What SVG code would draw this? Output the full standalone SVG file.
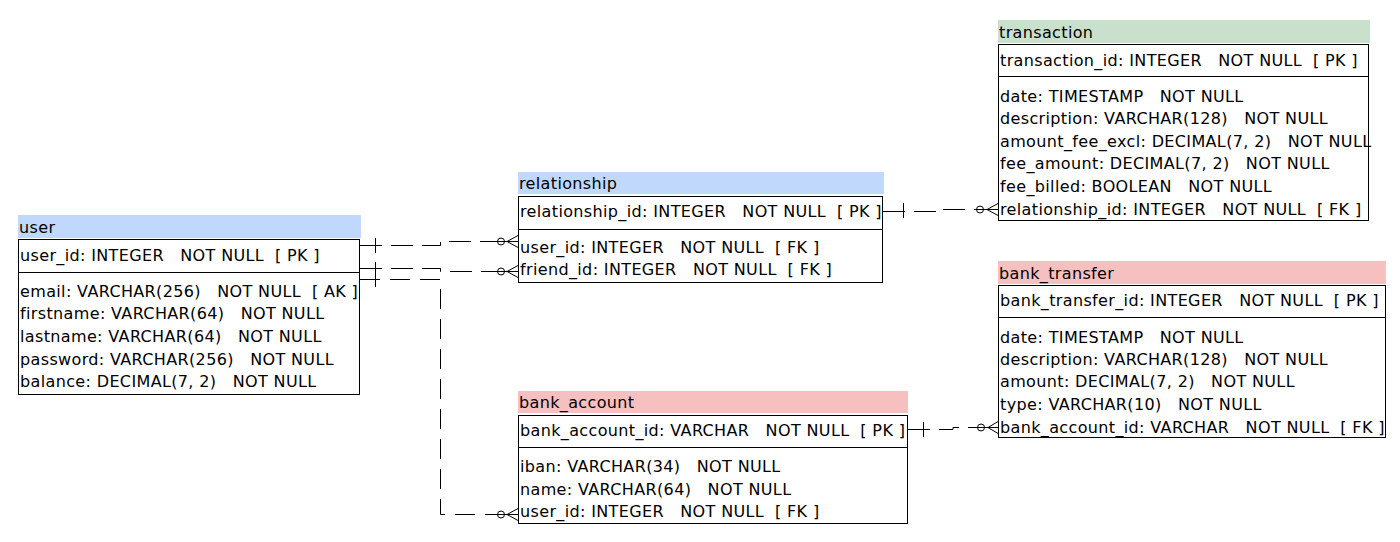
<svg xmlns="http://www.w3.org/2000/svg" width="1400" height="542" viewBox="0 0 1400 542">
<style>
text{font-family:"DejaVu Sans",Tahoma,Verdana,sans-serif;font-size:16px;letter-spacing:0.36px;fill:#000;white-space:pre}
.box{fill:#fff;stroke:#000;stroke-width:1}
.sep{stroke:#000;stroke-width:1}
.hb{fill:#c0d8fc}
.hg{fill:#c8e0cc}
.hr{fill:#f6c0c0}
.c{fill:none;stroke:#000;stroke-width:1}
.d{stroke-dasharray:22 9}
</style>
<rect width="1400" height="542" fill="#fff"/>
<g id="user">
<rect class="hb" x="18" y="215" width="343" height="23"/>
<text x="19" y="233">user</text>
<rect class="box" x="18.5" y="239.5" width="341" height="155"/>
<line class="sep" x1="18" y1="272.5" x2="360" y2="272.5"/>
<text x="20" y="261">user_id: INTEGER   NOT NULL  [ PK ]</text>
<text x="20" y="297">email: VARCHAR(256)   NOT NULL  [ AK ]</text>
<text x="20" y="319">firstname: VARCHAR(64)   NOT NULL</text>
<text x="20" y="342">lastname: VARCHAR(64)   NOT NULL</text>
<text x="20" y="365">password: VARCHAR(256)   NOT NULL</text>
<text x="20" y="387">balance: DECIMAL(7, 2)   NOT NULL</text>
</g>
<g id="relationship">
<rect class="hb" x="518" y="172" width="366" height="22"/>
<text x="519" y="189">relationship</text>
<rect class="box" x="518.5" y="196.5" width="364" height="86"/>
<line class="sep" x1="518" y1="229.5" x2="883" y2="229.5"/>
<text x="520" y="217">relationship_id: INTEGER   NOT NULL  [ PK ]</text>
<text x="520" y="253">user_id: INTEGER   NOT NULL  [ FK ]</text>
<text x="520" y="275">friend_id: INTEGER   NOT NULL  [ FK ]</text>
</g>
<g id="transaction">
<rect class="hg" x="998" y="20" width="372" height="23"/>
<text x="999" y="38">transaction</text>
<rect class="box" x="998.5" y="44.5" width="370" height="176"/>
<line class="sep" x1="998" y1="76.5" x2="1369" y2="76.5"/>
<text x="1000" y="66">transaction_id: INTEGER   NOT NULL  [ PK ]</text>
<text x="1000" y="102">date: TIMESTAMP   NOT NULL</text>
<text x="1000" y="124">description: VARCHAR(128)   NOT NULL</text>
<text x="1000" y="147">amount_fee_excl: DECIMAL(7, 2)   NOT NULL</text>
<text x="1000" y="169">fee_amount: DECIMAL(7, 2)   NOT NULL</text>
<text x="1000" y="192">fee_billed: BOOLEAN   NOT NULL</text>
<text x="1000" y="215">relationship_id: INTEGER   NOT NULL  [ FK ]</text>
</g>
<g id="bank_transfer">
<rect class="hr" x="998" y="261" width="388" height="23"/>
<text x="999" y="279">bank_transfer</text>
<rect class="box" x="998.5" y="285.5" width="387" height="152"/>
<line class="sep" x1="998" y1="317.5" x2="1386" y2="317.5"/>
<text x="1000" y="306">bank_transfer_id: INTEGER   NOT NULL  [ PK ]</text>
<text x="1000" y="343">date: TIMESTAMP   NOT NULL</text>
<text x="1000" y="365">description: VARCHAR(128)   NOT NULL</text>
<text x="1000" y="387">amount: DECIMAL(7, 2)   NOT NULL</text>
<text x="1000" y="410">type: VARCHAR(10)   NOT NULL</text>
<text x="1000" y="433">bank_account_id: VARCHAR   NOT NULL  [ FK ]</text>
</g>
<g id="bank_account">
<rect class="hr" x="518" y="391" width="390" height="22"/>
<text x="519" y="408">bank_account</text>
<rect class="box" x="518.5" y="415.5" width="389" height="108"/>
<line class="sep" x1="518" y1="447.5" x2="908" y2="447.5"/>
<text x="520" y="436">bank_account_id: VARCHAR   NOT NULL  [ PK ]</text>
<text x="520" y="472">iban: VARCHAR(34)   NOT NULL</text>
<text x="520" y="495">name: VARCHAR(64)   NOT NULL</text>
<text x="520" y="517">user_id: INTEGER   NOT NULL  [ FK ]</text>
</g>
<g id="connectors">
<polyline class="c d" points="360,245.5 440.5,245.5 440.5,241.5 497,241.5"/>
<line class="c" x1="375.5" y1="238" x2="375.5" y2="253"/>
<circle class="c" cx="501" cy="241.5" r="3.5"/>
<path class="c" d="M497,241.5 H518 M507,241.5 L518,235.5 M507,241.5 L518,247.5"/>
<polyline class="c d" points="360,268.5 440.5,268.5 440.5,271.5 497,271.5"/>
<circle class="c" cx="501" cy="271.5" r="3.5"/>
<path class="c" d="M497,271.5 H518 M507,271.5 L518,265.5 M507,271.5 L518,277.5"/>
<polyline class="c" style="stroke-dasharray:20 10" points="360,279.5 440.5,279.5 440.5,514.5 497,514.5"/>
<line class="c" x1="375.5" y1="262" x2="375.5" y2="287"/>
<circle class="c" cx="501" cy="514.5" r="3.5"/>
<path class="c" d="M497,514.5 H518 M507,514.5 L518,508.5 M507,514.5 L518,520.5"/>
<polyline class="c d" points="883,211.5 940,211.5 940,209.5 976,209.5"/>
<line class="c" x1="903.5" y1="203" x2="903.5" y2="218"/>
<circle class="c" cx="980" cy="209.5" r="3.5"/>
<path class="c" d="M976,209.5 H998 M987,209.5 L998,203.5 M987,209.5 L998,215.5"/>
<polyline class="c d" points="908,429.5 953,429.5 953,427.5 977,427.5"/>
<line class="c" x1="923.5" y1="422" x2="923.5" y2="437"/>
<circle class="c" cx="981" cy="427.5" r="3.5"/>
<path class="c" d="M977,427.5 H998 M988,427.5 L998,421.5 M988,427.5 L998,433.5"/>
</g>
</svg>
